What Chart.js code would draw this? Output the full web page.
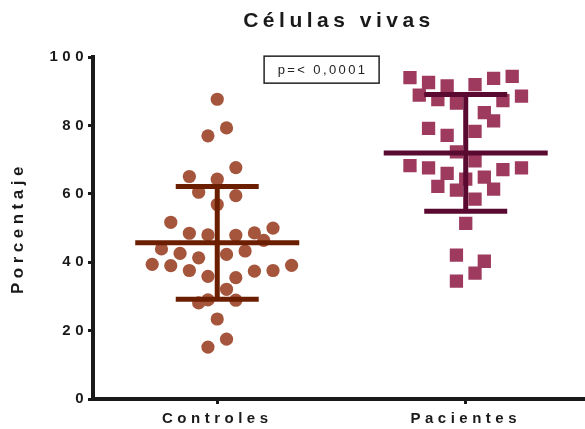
<!DOCTYPE html>
<html>
<head>
<meta charset="utf-8">
<script src="https://cdn.jsdelivr.net/npm/chart.js@4.4.1/dist/chart.umd.min.js"></script>
<style>
  html, body { margin: 0; padding: 0; background: #fff; }
  #wrap { width: 585px; height: 429px; }
</style>
</head>
<body>
<div id="wrap"><canvas id="vivas" width="585" height="429"></canvas></div>
<script>
// data
var categories = ["Controles", "Pacientes"];
var yTicks = [0, 20, 40, 60, 80, 100];

var controlesValues = [87.7, 79.3, 77.0, 67.7, 65.1, 64.3, 60.5, 59.5, 56.9, 51.7,
    48.5, 48.0, 47.9, 48.6, 50.0, 46.4, 43.9, 42.6, 41.3, 42.3,
    43.3, 39.4, 39.0, 37.6, 35.9, 35.5, 37.4, 37.6, 39.1, 32.1,
    28.1, 29.0, 28.9, 23.4, 17.5, 15.2];
var controlesColumn = [0, 1, -1, 2, -3, 0, -2, 2, 0, -5,
    -3, -1, 2, 4, 6, 5, -6, -4, -2, 1,
    3, -7, -5, -3, -1, 2, 4, 6, 8, 1,
    -2, -1, 2, 0, 1, -1];

var pacientesValues = [94.0, 92.6, 91.6, 92.0, 93.8, 94.4, 88.9, 87.6, 86.6, 87.3,
    88.6, 83.8, 81.4, 79.2, 77.1, 78.3, 72.3, 69.7, 68.3, 67.6,
    66.0, 64.3, 64.9, 67.1, 67.6, 62.2, 61.1, 61.4, 58.5, 51.4,
    42.1, 40.3, 36.8, 34.5];
var pacientesColumn = [-6, -4, -2, 1, 3, 5, -5, -3, -1, 4,
    6, 2, 3, -4, -2, 1, -1, 1, -6, -4,
    -2, 0, 2, 4, 6, -3, -1, 3, 1, 0,
    -1, 2, 1, -1];

var meanValues = [45.7, 72.0];
var sdValues = [16.5, 17.1];
var pValueText = "p=< 0,0001";

var colStep = 0.0374;   // horizontal spread of one jitter column, in category units
var dotColors = ["#a4553c", "#9d3a5e"];
var barColors = ["#6c1f00", "#5a0a30"];

function toPoints(cat, vals, cols) {
    return vals.map(function (v, i) {
        return { x: cat + cols[i] * colStep, y: v };
    });
}

// mean +/- SD bars, drawn on top of the dots
var errorBars = {
    id: "errorBars",
    afterDatasetsDraw: function (chart) {
        var ctx = chart.ctx, xs = chart.scales.x, ys = chart.scales.y;
        ctx.save();
        ctx.lineCap = "butt";
        meanValues.forEach(function (m, i) {
            var c = i + 1;
            ctx.strokeStyle = barColors[i];
            ctx.lineWidth = 5;
            ctx.beginPath();
            ctx.moveTo(xs.getPixelForValue(c - 0.33), ys.getPixelForValue(m));
            ctx.lineTo(xs.getPixelForValue(c + 0.33), ys.getPixelForValue(m));
            ctx.moveTo(xs.getPixelForValue(c), ys.getPixelForValue(m + sdValues[i]));
            ctx.lineTo(xs.getPixelForValue(c), ys.getPixelForValue(m - sdValues[i]));
            [m + sdValues[i], m - sdValues[i]].forEach(function (v) {
                ctx.moveTo(xs.getPixelForValue(c - 0.167), ys.getPixelForValue(v));
                ctx.lineTo(xs.getPixelForValue(c + 0.167), ys.getPixelForValue(v));
            });
            ctx.stroke();
        });
        ctx.restore();
    }
};

// the p-value box
var pBox = {
    id: "pBox",
    afterDraw: function (chart) {
        var ctx = chart.ctx, xs = chart.scales.x, ys = chart.scales.y;
        var cx = xs.getPixelForValue(1.42), top = ys.getPixelForValue(100.6);
        ctx.save();
        ctx.letterSpacing = "2.4px";
        ctx.font = "13px 'Liberation Sans', Arial, sans-serif";
        ctx.fillStyle = "#222";
        ctx.textAlign = "center";
        ctx.textBaseline = "middle";
        ctx.fillText(pValueText, cx + 1, top + 15);
        ctx.strokeStyle = "#222";
        ctx.lineWidth = 1.5;
        ctx.strokeRect(cx - 57.5, top + 1, 115, 27);
        ctx.restore();
    }
};

var spacing = {
    id: "spacing",
    beforeLayout: function (chart) { chart.ctx.letterSpacing = "4.5px"; },
    beforeDraw: function (chart) { chart.ctx.letterSpacing = "4.5px"; }
};

var font = "'Liberation Sans', Arial, sans-serif";

new Chart("vivas", {
    type: "scatter",
    data: {
        datasets: [{
            data: toPoints(1, controlesValues, controlesColumn),
            pointStyle: "circle",
            pointRadius: 6.6,
            pointHoverRadius: 6.6,
            pointBackgroundColor: dotColors[0],
            pointBorderWidth: 0
        }, {
            data: toPoints(2, pacientesValues, pacientesColumn),
            pointStyle: "rect",
            pointRadius: 9.4,
            pointHoverRadius: 9.4,
            pointBackgroundColor: dotColors[1],
            pointBorderWidth: 0
        }]
    },
    options: {
        responsive: false,
        animation: false,
        layout: { padding: 0, autoPadding: false },
        plugins: {
            legend: { display: false },
            tooltip: { enabled: false },
            title: {
                display: true,
                fullSize: false,
                text: "Células vivas",
                color: "#1a1a1a",
                font: { family: font, size: 21, weight: "bold" },
                padding: { top: 9, bottom: 23 }
            }
        },
        scales: {
            x: {
                type: "linear",
                min: 0.5,
                max: 2.48,
                afterFit: function (s) {
                    s.height = 30;
                    s.paddingLeft = 0;
                    s.paddingRight = 0;
                },
                afterBuildTicks: function (s) {
                    s.ticks = categories.map(function (c, i) { return { value: i + 1 }; });
                },
                ticks: {
                    color: "#1a1a1a",
                    padding: 6,
                    font: { family: font, size: 15, weight: "bold" },
                    callback: function (v) { return categories[v - 1]; }
                },
                grid: { drawOnChartArea: false, drawTicks: true, tickLength: 5, color: "#1a1a1a", lineWidth: 3 },
                border: { color: "#1a1a1a", width: 4 }
            },
            y: {
                min: 0,
                max: 100,
                afterFit: function (s) { s.width = 93; },
                afterBuildTicks: function (s) {
                    s.ticks = yTicks.map(function (v) { return { value: v }; });
                },
                ticks: {
                    color: "#1a1a1a",
                    padding: 0,
                    font: { family: font, size: 15, weight: "bold" }
                },
                title: {
                    display: true,
                    text: "Porcentaje",
                    color: "#1a1a1a",
                    font: { family: font, size: 17, weight: "bold" },
                    padding: { top: 8, bottom: 0 }
                },
                grid: { drawOnChartArea: false, drawTicks: true, tickLength: 5, color: "#1a1a1a", lineWidth: 3 },
                border: { color: "#1a1a1a", width: 4 }
            }
        }
    },
    plugins: [spacing, errorBars, pBox]
});
</script>
</body>
</html>
